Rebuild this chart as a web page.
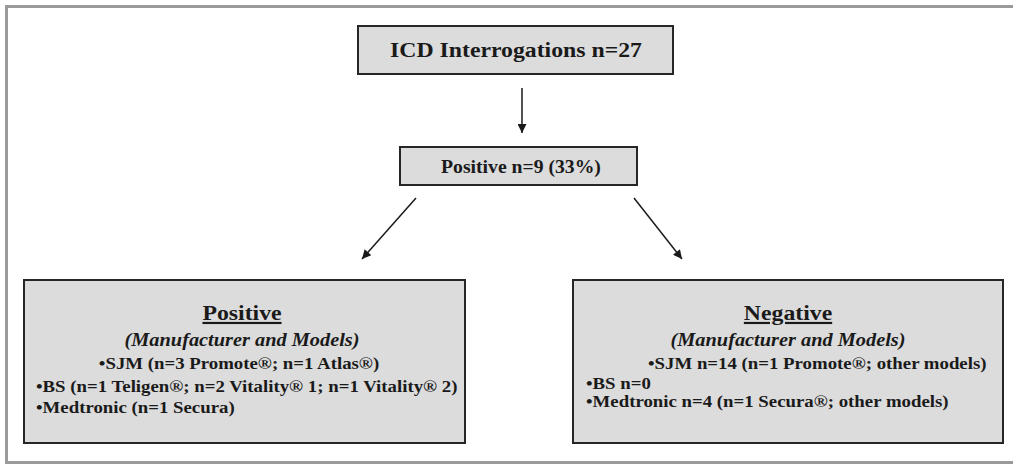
<!DOCTYPE html>
<html>
<head>
<meta charset="utf-8">
<script src="https://cdn.jsdelivr.net/npm/d3@7"></script>
<style>
  body { margin: 0; background: #fff; }
  svg { display: block; font-family: "Liberation Serif", "Times New Roman", serif; }
</style>
</head>
<body>
<script>
// flowchart text
const topLabel = "ICD Interrogations n=27";
const midLabel = "Positive n=9 (33%)";
const subtitle = "(Manufacturer and Models)";
const positiveTitle = "Positive";
const positiveLines = [
  "•SJM (n=3 Promote®; n=1 Atlas®)",
  "•BS (n=1 Teligen®; n=2 Vitality® 1; n=1 Vitality® 2)",
  "•Medtronic (n=1 Secura)"
];
const negativeTitle = "Negative";
const negativeLines = [
  "•SJM n=14 (n=1 Promote®; other models)",
  "•BS n=0",
  "•Medtronic n=4 (n=1 Secura®; other models)"
];

// canvas size
const width = 1013;
const height = 464;
// the original type is a little stretched sideways
const stretch = 1.1;

const svg = d3
  .select("body")
  .append("svg")
  .attr("width", width)
  .attr("height", height);

// arrow head
svg
  .append("defs")
  .append("marker")
  .attr("id", "arrow")
  .attr("viewBox", "0 0 10 10")
  .attr("refX", 10)
  .attr("refY", 5)
  .attr("markerWidth", 11)
  .attr("markerHeight", 9)
  .attr("markerUnits", "userSpaceOnUse")
  .attr("orient", "auto")
  .append("path")
  .attr("d", "M0,0 L10,5 L0,10 z")
  .attr("fill", "#1a1a1a");

// outer frame
svg
  .append("rect")
  .attr("x", 6.5)
  .attr("y", 6.5)
  .attr("width", 1012)
  .attr("height", 456)
  .attr("fill", "none")
  .attr("stroke", "#9a9a9a")
  .attr("stroke-width", 3);

// draw a box with a small shadow
function box(x, y, w, h) {
  svg
    .append("rect")
    .attr("x", x + 1)
    .attr("y", y + 1)
    .attr("width", w)
    .attr("height", h)
    .attr("fill", "#3a3a3a");
  svg
    .append("rect")
    .attr("x", x)
    .attr("y", y)
    .attr("width", w)
    .attr("height", h)
    .attr("fill", "#dcdcdc")
    .attr("stroke", "#262626")
    .attr("stroke-width", 2);
}

function arrow(x1, y1, x2, y2) {
  svg
    .append("line")
    .attr("x1", x1)
    .attr("y1", y1)
    .attr("x2", x2)
    .attr("y2", y2)
    .attr("stroke", "#1a1a1a")
    .attr("stroke-width", 1.5)
    .attr("marker-end", "url(#arrow)");
}

// bold text, stretched horizontally
function label(x, y, anchor, size, str, extra) {
  const t = svg
    .append("g")
    .attr("transform", "translate(" + x + "," + y + ") scale(" + stretch + ",1)")
    .append("text")
    .attr("text-anchor", anchor)
    .attr("fill", "#1a1a1a")
    .style("font-weight", "bold")
    .style("font-size", size + "px")
    .text(str);
  if (extra) extra(t);
  return t;
}

// top box
box(358, 26, 315, 48);
label(516, 57, "middle", 21.6, topLabel);

arrow(522, 88, 522, 133);

// middle box
box(400, 147, 237, 38);
label(521, 173, "middle", 17.9, midLabel);

arrow(416, 198, 362, 259);
arrow(634, 198, 682, 259);

// result boxes
function resultBox(x, w, title, lines, cfg) {
  box(x, 280, w, 163);
  label(cfg.cx, 320, "middle", 21.6, title, (t) =>
    t.style("text-decoration", "underline")
  );
  label(cfg.cx, 346, "middle", 18.5, subtitle, (t) =>
    t.style("font-style", "italic")
  );
  lines.forEach(function (d, i) {
    label(
      i === 0 ? cfg.firstX : cfg.left,
      cfg.ys[i],
      i === 0 ? cfg.firstAnchor : "start",
      17.1,
      d
    );
  });
}

resultBox(24, 441, positiveTitle, positiveLines, {
  cx: 242,
  left: 36,
  firstX: 239,
  firstAnchor: "middle",
  ys: [369, 392, 413]
});

resultBox(573, 430, negativeTitle, negativeLines, {
  cx: 788,
  left: 586,
  firstX: 648,
  firstAnchor: "start",
  ys: [369, 389, 407]
});
</script>
</body>
</html>
